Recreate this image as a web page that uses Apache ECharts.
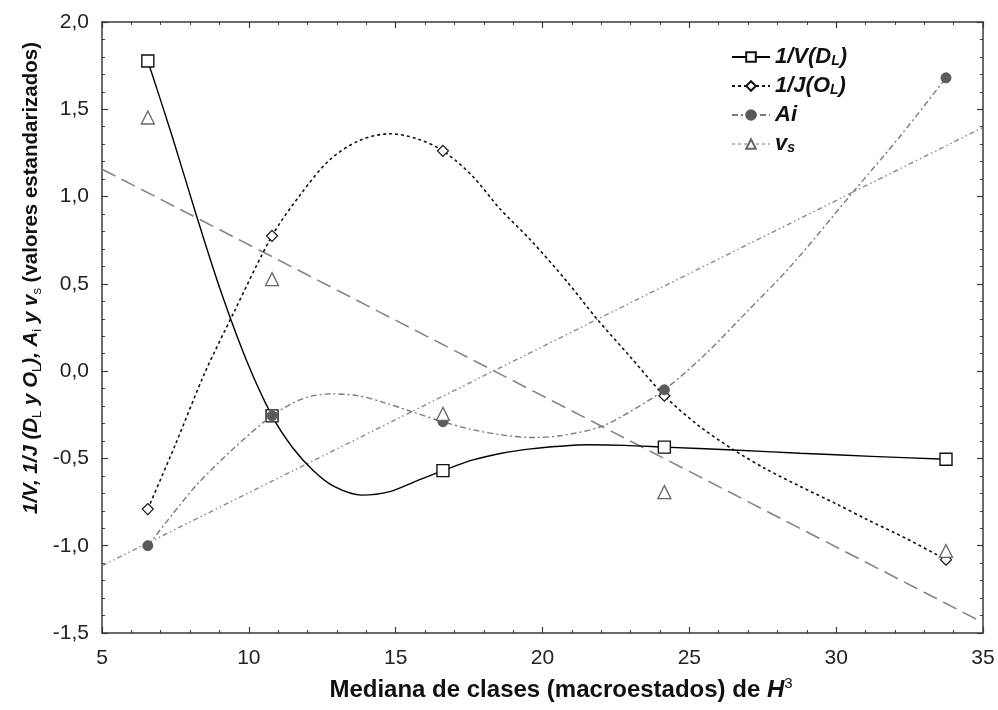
<!DOCTYPE html>
<html>
<head>
<meta charset="utf-8">
<script src="https://cdn.jsdelivr.net/npm/echarts@6/dist/echarts.min.js"></script>
<style>
  html, body { margin: 0; padding: 0; background: #fff; }
  #chart { width: 998px; height: 710px; }
</style>
</head>
<body>
<div id="chart"></div>
<script>
// Class medians of H^3 and standardised values of each index
const medianas = [6.56, 10.79, 16.61, 24.15, 33.74];
const invV = [1.777, -0.256, -0.57, -0.435, -0.505];
const invJ = [-0.79, 0.775, 1.262, -0.141, -1.08];
const ai = [-1.0, -0.256, -0.29, -0.107, 1.68];
const vs = [1.453, 0.527, -0.245, -0.693, -1.03];

// Intermediate points along each fitted curve
const curvaVx = [7.4, 8.2, 9.0, 9.9, 11.5, 12.2, 12.9, 13.85, 14.8, 15.7, 17.6, 18.6, 19.6, 20.6, 21.6, 22.8, 26.5, 28.77, 31.2];
const curvaVy = [1.34, 0.90, 0.48, 0.07, -0.44, -0.57, -0.66, -0.71, -0.69, -0.63, -0.51, -0.47, -0.445, -0.43, -0.422, -0.425, -0.452, -0.47, -0.488];
const curvaJx = [7.5, 8.5, 9.5, 11.75, 12.75, 13.75, 14.8, 15.75, 17.6, 18.55, 19.6, 20.8, 21.85, 23.0, 25.3, 26.5, 27.6, 28.77, 30.0, 31.05, 32.4];
const curvaJy = [-0.42, -0.01, 0.34, 1.01, 1.21, 1.32, 1.36, 1.33, 1.12, 0.93, 0.75, 0.52, 0.30, 0.08, -0.31, -0.45, -0.56, -0.66, -0.76, -0.85, -0.96];
const curvaAx = [7.4, 8.23, 9.5, 11.8, 12.76, 13.7, 14.6, 15.6, 17.6, 18.6, 19.6, 20.6, 21.96, 23.0, 25.5, 26.96, 28.5, 30.57, 32.2];
const curvaAy = [-0.82, -0.65, -0.44, -0.16, -0.13, -0.14, -0.18, -0.235, -0.335, -0.365, -0.38, -0.37, -0.32, -0.23, 0.09, 0.34, 0.61, 1.025, 1.35];

// Straight trend lines (end points at x = 5 and x = 35)
const rectaX = [5, 35];
const rectaDescY = [1.157, -1.44];
const rectaAscY = [-1.115, 1.396];

// Axis ticks
const xMin = 5, xMax = 35, xPaso = 5;
const yMin = -1.5, yMax = 2.0, yPaso = 0.5;

const FONT = '"Liberation Sans", Arial, sans-serif';

// Merge observed points (with marker) and curve points (without marker)
function trazado(obsY, cx, cy) {
  const pts = medianas.map((x, i) => ({ value: [x, obsY[i]] }));
  cx.forEach((x, i) => pts.push({ value: [x, cy[i]], symbol: 'none' }));
  pts.sort((a, b) => a.value[0] - b.value[0]);
  return pts;
}

const chart = echarts.init(document.getElementById('chart'), null, { renderer: 'canvas' });

const ejeX = (pos, labels) => ({
  type: 'value', position: pos, min: xMin, max: xMax, interval: xPaso,
  axisLine: { show: true, onZero: false, lineStyle: { color: '#3a3a3a', width: 1.5 } },
  axisTick: { show: true, inside: true, length: 6, lineStyle: { color: '#3a3a3a', width: 1.2 } },
  minorTick: { show: true, splitNumber: 5, length: 3, lineStyle: { color: '#3a3a3a', width: 1 } },
  splitLine: { show: false },
  axisLabel: {
    show: labels, margin: 15, color: '#222',
    fontFamily: FONT, fontSize: 21,
    formatter: v => String(v)
  }
});

const ejeY = (pos, labels) => ({
  type: 'value', position: pos, min: yMin, max: yMax, interval: yPaso,
  axisLine: { show: true, onZero: false, lineStyle: { color: '#3a3a3a', width: 1.5 } },
  axisTick: { show: true, inside: true, length: 6, lineStyle: { color: '#3a3a3a', width: 1.2 } },
  minorTick: { show: true, splitNumber: 5, length: 3, lineStyle: { color: '#3a3a3a', width: 1 } },
  splitLine: { show: false },
  axisLabel: {
    show: labels, margin: 13, color: '#222',
    fontFamily: FONT, fontSize: 21,
    formatter: v => v.toFixed(1).replace('.', ',')
  }
});

const legendaTexto = {
  '1/V(D_L)': '{b|1/V(D}{s|L}{b|)}',
  '1/J(O_L)': '{b|1/J(O}{s|L}{b|)}',
  'Ai': '{b|Ai}',
  'v_s': '{b|v}{s|s}'
};

const option = {
  animation: false,
  backgroundColor: '#fff',
  grid: { left: 102, right: 15, top: 22, bottom: 77, containLabel: false },
  xAxis: [ejeX('bottom', true), ejeX('top', false)],
  yAxis: [ejeY('left', true), ejeY('right', false)],
  legend: {
    data: [
      '1/V(D_L)', '1/J(O_L)', 'Ai',
      { name: 'v_s', lineStyle: { opacity: 1, color: '#777', width: 1, type: [3, 3] } }
    ],
    orient: 'vertical', left: 726, top: 41,
    itemWidth: 38, itemHeight: 12, itemGap: 7,
    formatter: n => legendaTexto[n],
    textStyle: {
      rich: {
        b: { fontFamily: FONT, fontSize: 22, fontWeight: 'bold', fontStyle: 'italic', color: '#111', lineHeight: 22 },
        s: { fontFamily: FONT, fontSize: 14, fontWeight: 'bold', fontStyle: 'italic', color: '#111', lineHeight: 12, verticalAlign: 'bottom' }
      }
    }
  },
  graphic: [
    {
      type: 'text', x: 561, y: 690,
      style: {
        text: '{t|Mediana de clases (macroestados) de }{h|H}{p|3}',
        align: 'center', verticalAlign: 'middle',
        rich: {
          t: { fontFamily: FONT, fontSize: 24, fontWeight: 'bold', fill: '#111', lineHeight: 28 },
          h: { fontFamily: FONT, fontSize: 24, fontWeight: 'bold', fontStyle: 'italic', fill: '#111', lineHeight: 28 },
          p: { fontFamily: FONT, fontSize: 15, fill: '#111', lineHeight: 14, verticalAlign: 'top' }
        }
      }
    },
    {
      type: 'text', x: 31, y: 278, rotation: Math.PI / 2,
      style: {
        text: '{i|1/V, 1/J (D}{s|L}{i| y O}{s|L}{i|), A}{s|i}{i| y v}{s|s}{t| (valores estandarizados)}',
        align: 'center', verticalAlign: 'middle',
        rich: {
          i: { fontFamily: FONT, fontSize: 20.5, fontWeight: 'bold', fontStyle: 'italic', fill: '#111', lineHeight: 26 },
          t: { fontFamily: FONT, fontSize: 20.5, fontWeight: 'bold', fill: '#111', lineHeight: 26 },
          s: { fontFamily: FONT, fontSize: 13, fill: '#111', lineHeight: 14, verticalAlign: 'bottom' }
        }
      }
    }
  ],
  series: [
    {
      name: 'recta descendente', type: 'line', data: rectaX.map((x, i) => [x, rectaDescY[i]]),
      symbol: 'none', silent: true, z: 2,
      lineStyle: { color: '#858585', width: 1.6, type: [15, 7] }
    },
    {
      name: 'recta ascendente', type: 'line', data: rectaX.map((x, i) => [x, rectaAscY[i]]),
      symbol: 'none', silent: true, z: 2,
      lineStyle: { color: '#8a8a8a', width: 1.4, type: [5, 3, 1.5, 3, 1.5, 3] }
    },
    {
      name: '1/V(D_L)', type: 'line', data: trazado(invV, curvaVx, curvaVy),
      smooth: 0.3, showAllSymbol: true, symbol: 'rect', symbolSize: 12, z: 3,
      lineStyle: { color: '#000', width: 1.4, type: 'solid' },
      itemStyle: { color: '#fff', borderColor: '#111', borderWidth: 1.4 }
    },
    {
      name: '1/J(O_L)', type: 'line', data: trazado(invJ, curvaJx, curvaJy),
      smooth: 0.3, showAllSymbol: true, symbol: 'diamond', symbolSize: 11, z: 4,
      lineStyle: { color: '#111', width: 1.6, type: [3, 3] },
      itemStyle: { color: '#fff', borderColor: '#111', borderWidth: 1.2 }
    },
    {
      name: 'Ai', type: 'line', data: trazado(ai, curvaAx, curvaAy),
      smooth: 0.3, showAllSymbol: true, symbol: 'circle', symbolSize: 10, z: 5,
      lineStyle: { color: '#7a7a7a', width: 1.4, type: [6, 3, 2, 3] },
      itemStyle: { color: '#5a5a5a', borderColor: '#5a5a5a', borderWidth: 1 }
    },
    {
      name: 'v_s', type: 'line', data: medianas.map((x, i) => [x, vs[i]]),
      showAllSymbol: true, symbol: 'triangle', symbolSize: 13, z: 6,
      lineStyle: { opacity: 0, width: 0 },
      itemStyle: { color: '#fff', borderColor: '#666', borderWidth: 1.3 }
    }
  ]
};

chart.setOption(option);
</script>
</body>
</html>
